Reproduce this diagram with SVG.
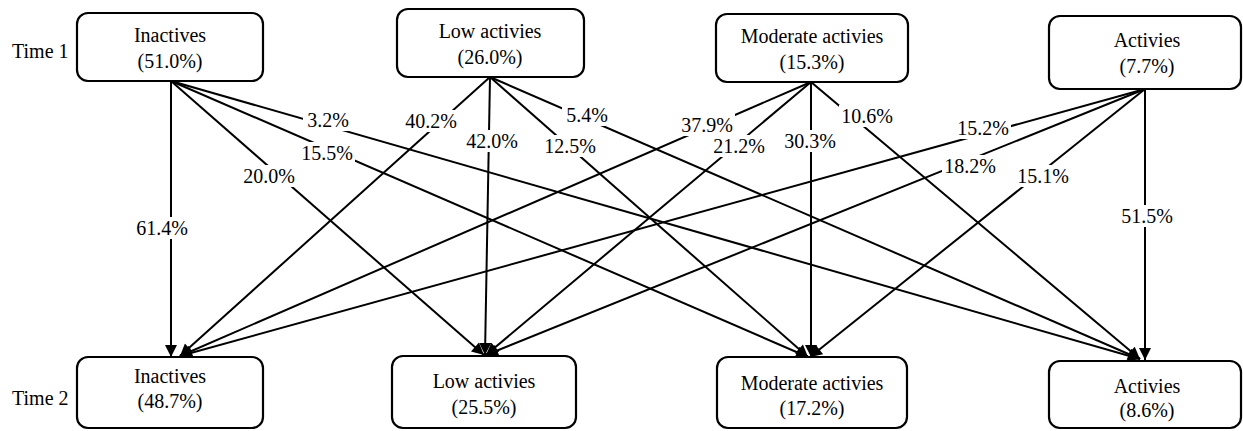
<svg xmlns="http://www.w3.org/2000/svg" width="1243" height="431" viewBox="0 0 1243 431">
<defs>
<marker id="arr" viewBox="0 0 10 10" refX="10" refY="5" markerWidth="14" markerHeight="12" markerUnits="userSpaceOnUse" orient="auto">
<path d="M0,0 L10,5 L0,10 z" fill="#000"/>
</marker>
</defs>
<style>
.box{fill:#fff;stroke:#000;stroke-width:2.2}
.t{font-family:"Liberation Serif","Times New Roman",serif;font-size:20px;fill:#000;text-anchor:middle}
.tl{font-family:"Liberation Serif","Times New Roman",serif;font-size:20px;fill:#000}
.e{stroke:#000;stroke-width:2;fill:none;marker-end:url(#arr)}
.bg{fill:#fff}
</style>
<rect width="1243" height="431" fill="#fff"/>
<text class="tl" x="12" y="58">Time 1</text>
<text class="tl" x="12" y="405">Time 2</text>
<g id="connectors">
<line class="e" x1="171" y1="81" x2="171" y2="357"/>
<line class="e" x1="171" y1="81" x2="484" y2="355"/>
<line class="e" x1="171" y1="81" x2="808" y2="357"/>
<line class="e" x1="171" y1="81" x2="1140" y2="359"/>
<line class="e" x1="490" y1="77" x2="180" y2="356"/>
<line class="e" x1="490" y1="77" x2="485" y2="355"/>
<line class="e" x1="490" y1="77" x2="808" y2="357"/>
<line class="e" x1="490" y1="77" x2="1140" y2="359"/>
<line class="e" x1="811" y1="82" x2="180" y2="356"/>
<line class="e" x1="811" y1="82" x2="486" y2="355"/>
<line class="e" x1="811" y1="82" x2="811" y2="357"/>
<line class="e" x1="811" y1="82" x2="1140" y2="359"/>
<line class="e" x1="1145" y1="89" x2="180" y2="356"/>
<line class="e" x1="1145" y1="89" x2="486" y2="355"/>
<line class="e" x1="1145" y1="89" x2="810" y2="357"/>
<line class="e" x1="1145" y1="89" x2="1145" y2="360"/>
</g>
<g id="labels">
<rect class="bg" x="134" y="217" width="56" height="22"/><text class="t" x="162" y="235">61.4%</text>
<rect class="bg" x="241" y="165" width="56" height="22"/><text class="t" x="269" y="183">20.0%</text>
<rect class="bg" x="299" y="142" width="56" height="22"/><text class="t" x="327" y="160">15.5%</text>
<rect class="bg" x="303" y="110" width="50" height="21"/><text class="t" x="328" y="127">3.2%</text>
<rect class="bg" x="403" y="110" width="56" height="22"/><text class="t" x="431" y="128">40.2%</text>
<rect class="bg" x="464" y="130" width="56" height="22"/><text class="t" x="492" y="148">42.0%</text>
<rect class="bg" x="542" y="135" width="56" height="22"/><text class="t" x="570" y="153">12.5%</text>
<rect class="bg" x="562" y="105" width="50" height="21"/><text class="t" x="587" y="122">5.4%</text>
<rect class="bg" x="679" y="114" width="56" height="22"/><text class="t" x="707" y="132">37.9%</text>
<rect class="bg" x="711" y="135" width="56" height="22"/><text class="t" x="739" y="153">21.2%</text>
<rect class="bg" x="782" y="130" width="56" height="22"/><text class="t" x="810" y="148">30.3%</text>
<rect class="bg" x="839" y="105" width="56" height="22"/><text class="t" x="867" y="123">10.6%</text>
<rect class="bg" x="955" y="117" width="56" height="22"/><text class="t" x="983" y="135">15.2%</text>
<rect class="bg" x="942" y="155" width="56" height="22"/><text class="t" x="970" y="173">18.2%</text>
<rect class="bg" x="1015" y="165" width="56" height="22"/><text class="t" x="1043" y="183">15.1%</text>
<rect class="bg" x="1119" y="205" width="56" height="22"/><text class="t" x="1147" y="223">51.5%</text>
</g>
<g id="t1-inactives"><rect class="box" x="77" y="13" width="186" height="68" rx="11"/><text class="t" x="170" y="42">Inactives</text><text class="t" x="170" y="68">(51.0%)</text></g>
<g id="t1-low"><rect class="box" x="397" y="9" width="187" height="68" rx="11"/><text class="t" x="490" y="38">Low activies</text><text class="t" x="490" y="64">(26.0%)</text></g>
<g id="t1-moderate"><rect class="box" x="716" y="14" width="192" height="68" rx="11"/><text class="t" x="812" y="43">Moderate activies</text><text class="t" x="812" y="69">(15.3%)</text></g>
<g id="t1-actives"><rect class="box" x="1049" y="16" width="192" height="73" rx="11"/><text class="t" x="1147" y="47">Activies</text><text class="t" x="1147" y="73">(7.7%)</text></g>
<g id="t2-inactives"><rect class="box" x="77" y="357" width="186" height="71" rx="11"/><text class="t" x="170" y="383">Inactives</text><text class="t" x="170" y="408">(48.7%)</text></g>
<g id="t2-low"><rect class="box" x="392" y="356" width="184" height="72" rx="11"/><text class="t" x="484" y="388">Low activies</text><text class="t" x="484" y="414">(25.5%)</text></g>
<g id="t2-moderate"><rect class="box" x="717" y="357" width="190" height="71" rx="11"/><text class="t" x="812" y="390">Moderate activies</text><text class="t" x="812" y="415">(17.2%)</text></g>
<g id="t2-actives"><rect class="box" x="1049" y="361" width="192" height="67" rx="11"/><text class="t" x="1147" y="393">Activies</text><text class="t" x="1147" y="417">(8.6%)</text></g>
</svg>
